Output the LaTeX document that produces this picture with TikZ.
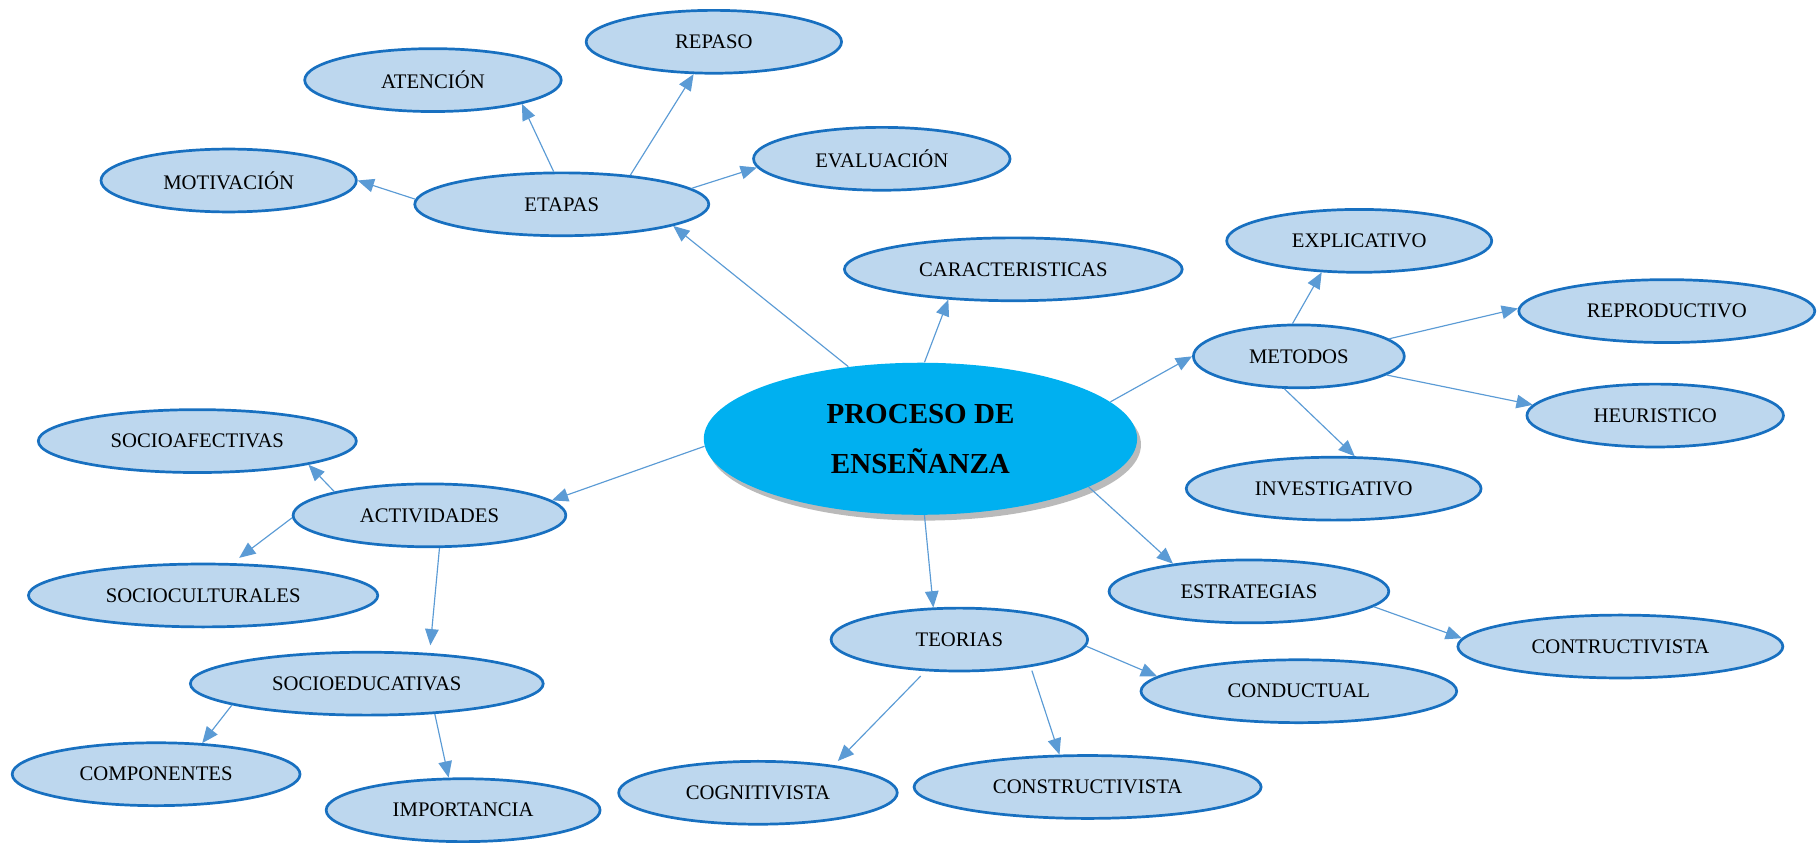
\documentclass[tikz,border=0pt]{standalone}
\usepackage{fontspec}
\setmainfont{Liberation Serif}
\usetikzlibrary{shapes.geometric,arrows.meta,shadows}
\definecolor{rimblue}{RGB}{24,112,192}
\definecolor{paleblue}{RGB}{189,215,238}
\definecolor{lineblue}{RGB}{91,155,213}
\definecolor{skyblue}{RGB}{0,176,240}

\begin{document}
\begin{tikzpicture}[x=0.6pt, y=-0.6pt, cnode/.style={draw=rimblue, fill=paleblue, line width=1.4pt, ellipse, inner sep=0pt, minimum height=32.5pt, font=\fontsize{10.7}{12}\selectfont}, pnode/.style={fill=skyblue, ellipse, inner sep=0pt, minimum width=224pt, minimum height=78.6pt, align=center, font=\fontsize{15}{25.8}\selectfont\bfseries, drop shadow={shadow xshift=2pt, shadow yshift=-3pt, fill=black!45, opacity=0.6}}]
    \useasboundingbox (0,0) rectangle (1568,726);

    \node[pnode] (pe) at (793,378) {PROCESO DE\\ENSEÑANZA};

    \node[cnode, minimum width=152pt] (etapas) at (484,176) {ETAPAS};
    \node[cnode, minimum width=132pt] (repaso) at (615,36) {REPASO\hspace{30pt}};
    \node[cnode, minimum width=132.6pt] (atencion) at (373,69) {ATENCIÓN\hspace{16pt}};
    \node[cnode, minimum width=132pt] (motiv) at (197,155.5) {MOTIVACIÓN};
    \node[cnode, minimum width=132.6pt] (evalua) at (759.7,136.8) {EVALUACIÓN};
    \node[cnode, minimum width=174.6pt] (caract) at (873,232) {CARACTERISTICAS};

    \node[cnode, minimum width=109pt] (metodos) at (1119,307) {METODOS};
    \node[cnode, minimum width=137pt] (explic) at (1171,207.5) {EXPLICATIVO};
    \node[cnode, minimum width=153pt] (reprod) at (1436,268) {REPRODUCTIVO};
    \node[cnode, minimum width=132.6pt] (heur) at (1426,358) {HEURISTICO};
    \node[cnode, minimum width=152.4pt] (invest) at (1149,421) {INVESTIGATIVO};

    \node[cnode, minimum width=144.6pt] (estrat) at (1076,509.5) {ESTRATEGIAS\hspace{7pt}};
    \node[cnode, minimum width=168pt] (contruct) at (1396,557) {CONTRUCTIVISTA};

    \node[cnode, minimum width=132.6pt] (teorias) at (826.5,551) {TEORIAS\hspace{26pt}};
    \node[cnode, minimum width=163.2pt] (conduct) at (1119,595.5) {CONDUCTUAL\hspace{18pt}};
    \node[cnode, minimum width=144pt] (cognit) at (653,683) {COGNITIVISTA};
    \node[cnode, minimum width=179.4pt] (construct) at (937,678) {CONSTRUCTIVISTA};

    \node[cnode, minimum width=141pt] (activ) at (370,444) {ACTIVIDADES};
    \node[cnode, minimum width=164.4pt] (socioaf) at (170,380) {SOCIOAFECTIVAS};
    \node[cnode, minimum width=180.6pt] (sociocul) at (175,513) {SOCIOCULTURALES};
    \node[cnode, minimum width=182.4pt] (socioed) at (316,589) {SOCIOEDUCATIVAS};
    \node[cnode, minimum width=148.8pt] (compon) at (134.5,667) {COMPONENTES};
    \node[cnode, minimum width=141.6pt] (import) at (399,698) {IMPORTANCIA};

   \begin{scope}[lineblue, line width=0.6pt, -{Triangle[length=8.4pt,width=7pt]}]
    \draw (pe.135) -- (etapas.-11);
    \draw (pe.87) -- (caract.205);
    \draw (pe.11) -- (metodos.180);
    \draw (pe.-16) -- (estrat.160);
    \draw (pe.-87) -- (teorias.129);
    \draw (pe.182) -- (activ.7);
    \draw (etapas.178) -- (motiv.0);
    \draw (etapas.104) -- (atencion.-15);
    \draw (etapas.23) -- (repaso.-122);
    \draw (etapas.7) -- (evalua.184);
    \draw (metodos.101) -- (explic.-140);
    \draw (metodos.11) -- (reprod.179);
    \draw (metodos.-12) -- (heur.175);
    \draw (metodos.-114) -- (invest.57);
    \draw (estrat.-7) -- (contruct.177);
    \draw (teorias.-3) -- (conduct.174);
    \draw[shorten <=3.5pt, shorten >=3pt] (teorias.-137) -- (cognit.20);
    \draw[shorten <=2pt] (teorias.-21) -- (construct.131);
    \draw (activ.166) -- (socioaf.-12);
    \draw[shorten >=4.5pt] (activ.181) -- (sociocul.48);
    \draw[shorten >=4pt] (activ.-73) -- (socioed.26);
    \draw (socioed.-171) -- (compon.34);
    \draw (socioed.-24) -- (import.114);
   \end{scope}
\end{tikzpicture}
\end{document}
